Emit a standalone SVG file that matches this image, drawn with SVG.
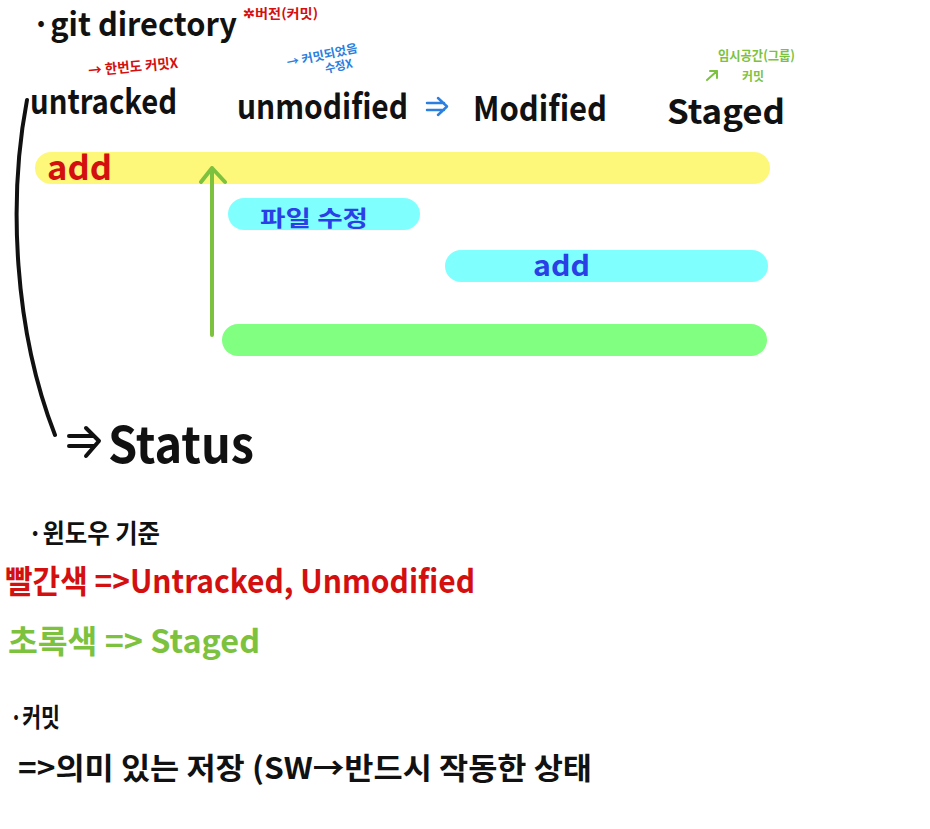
<svg xmlns="http://www.w3.org/2000/svg" width="930" height="829" viewBox="0 0 930 829">
<defs>
<style>
.t{font-family:"Noto Sans CJK KR","Liberation Sans",sans-serif;font-weight:700}
.blk{fill:#111}
.red{fill:#d40f0f}
.blu{fill:#2a7fe0}
.dblu{fill:#2b3fe6}
.grn{fill:#7cc23e}
.bar{stroke-linecap:round;fill:none}
</style>
</defs>
<rect width="930" height="829" fill="#fff"/>
<g id="title">
<text class="t blk" x="32" y="36" font-size="32" textLength="205" lengthAdjust="spacingAndGlyphs">·git directory</text>
<text class="t red" x="243" y="18" font-size="13" textLength="75" lengthAdjust="spacingAndGlyphs">✲버전(커밋)</text>
</g>
<g id="note-untracked" transform="rotate(-5 130 64)">
<text class="t red" x="88" y="72" font-size="14" textLength="90" lengthAdjust="spacingAndGlyphs">→ 한번도 커밋X</text>
</g>
<g id="note-unmodified" transform="rotate(-12 320 55)">
<text class="t blu" x="286" y="60" font-size="12" textLength="72" lengthAdjust="spacingAndGlyphs">→ 커밋되었음</text>
<text class="t blu" x="322" y="74" font-size="12" textLength="28" lengthAdjust="spacingAndGlyphs">수정X</text>
</g>
<g id="note-staged">
<text class="t grn" x="718" y="60" font-size="13" textLength="77" lengthAdjust="spacingAndGlyphs">임시공간(그룹)</text>
<text class="t grn" x="742" y="81" font-size="12" textLength="22" lengthAdjust="spacingAndGlyphs">커밋</text>
</g>
<g id="untracked">
<text class="t blk" x="30" y="114" font-size="34" textLength="147" lengthAdjust="spacingAndGlyphs">untracked</text>
</g>
<g id="unmodified">
<text class="t blk" x="237" y="119" font-size="34" textLength="171" lengthAdjust="spacingAndGlyphs">unmodified</text>
</g>
<g id="modified">
<text class="t blk" x="473" y="121" font-size="34" textLength="134" lengthAdjust="spacingAndGlyphs">Modified</text>
</g>
<g id="staged">
<text class="t blk" x="667" y="124" font-size="33" textLength="118" lengthAdjust="spacingAndGlyphs">Staged</text>
</g>
<g id="bars">
<line class="bar" x1="51" y1="168" x2="754" y2="168" stroke="#fdf87a" stroke-width="32"/>
<line class="bar" x1="244" y1="214" x2="404" y2="214" stroke="#80ffff" stroke-width="32"/>
<line class="bar" x1="461" y1="266" x2="752" y2="266" stroke="#80ffff" stroke-width="32"/>
<line class="bar" x1="238" y1="340" x2="751" y2="340" stroke="#80ff80" stroke-width="32"/>
<text class="t red" x="47" y="180" font-size="34" textLength="65" lengthAdjust="spacingAndGlyphs">add</text>
<text class="t dblu" x="260" y="226" font-size="22" textLength="108" lengthAdjust="spacingAndGlyphs">파일 수정</text>
<text class="t dblu" x="533" y="276" font-size="28" textLength="57" lengthAdjust="spacingAndGlyphs">add</text>
</g>
<g id="connectors" fill="none" stroke-linecap="round" stroke-linejoin="round">
<path d="M427 103 H444 M427 110 H444 M438 98 L447 106.5 L438 115" stroke="#2a7fe0" stroke-width="2.5"/>
<path d="M707 80 L717 71 M710 71 H717 V78" stroke="#7cc23e" stroke-width="2"/>
<path d="M212 335 V168 M201 182 L212 168 L225 182" stroke="#7cc23e" stroke-width="4"/>
<path d="M27 100 C 8 200, 14 330, 55 435" stroke="#111" stroke-width="4"/>
<path d="M69 436 H94 M69 446 H94 M86 428 L99 441 L86 456" stroke="#111" stroke-width="4"/>
</g>
<g id="status">
<text class="t blk" x="108" y="463" font-size="50" font-weight="400" textLength="146" lengthAdjust="spacingAndGlyphs">Status</text>
</g>
<g id="legend">
<text class="t blk" x="28" y="543" font-size="26" textLength="132" lengthAdjust="spacingAndGlyphs">·윈도우 기준</text>
<text class="t red" x="5" y="593" font-size="32" textLength="470" lengthAdjust="spacingAndGlyphs">빨간색 =&gt;Untracked, Unmodified</text>
<text class="t grn" x="8" y="653" font-size="32" textLength="252" lengthAdjust="spacingAndGlyphs">초록색 =&gt; Staged</text>
</g>
<g id="commit">
<text class="t blk" x="10" y="727" font-size="26" textLength="50" lengthAdjust="spacingAndGlyphs">·커밋</text>
<text class="t blk" x="18" y="779" font-size="30" textLength="574" lengthAdjust="spacingAndGlyphs">=&gt;의미 있는 저장 (SW→반드시 작동한 상태</text>
</g>
</svg>
